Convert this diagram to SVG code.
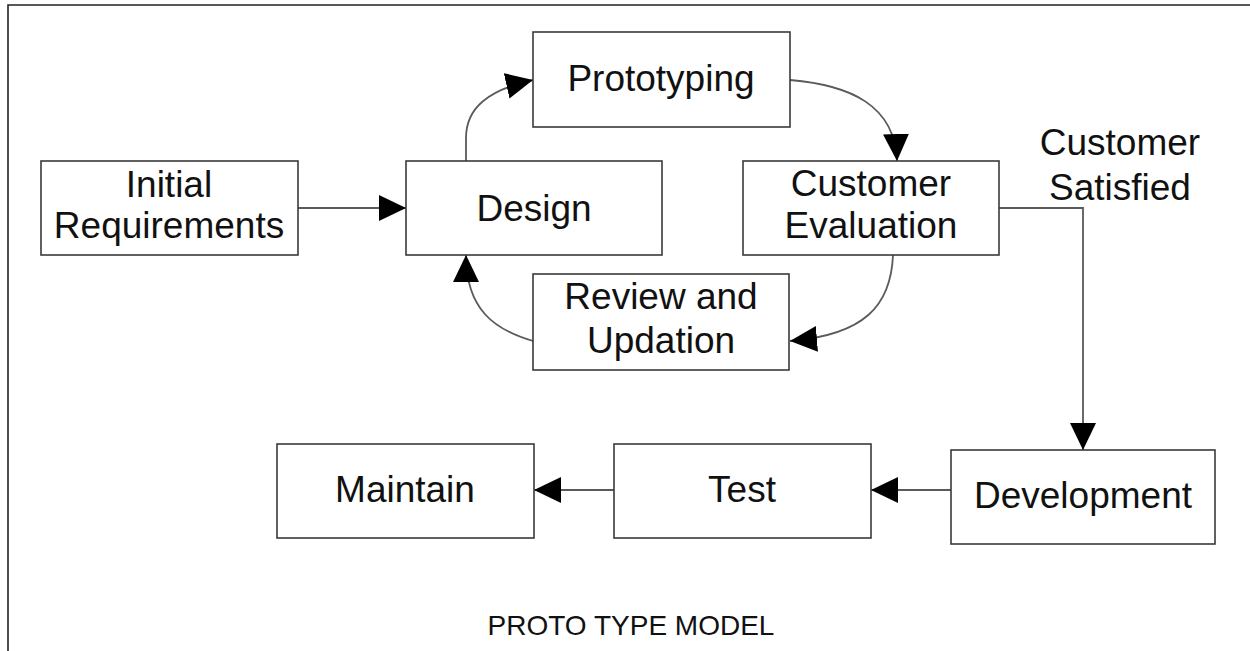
<svg xmlns="http://www.w3.org/2000/svg" width="1250" height="651" viewBox="0 0 1250 651">
  <style>
    .box { fill: #ffffff; stroke: #3a3a3a; stroke-width: 1.6; }
    .lbl { font-family: "Liberation Sans", Arial, sans-serif; font-size: 37px; fill: #111111; text-anchor: middle; }
    .cap { font-family: "Liberation Sans", Arial, sans-serif; font-size: 28px; fill: #111111; text-anchor: middle; }
    .edge { fill: none; stroke: #5a5a5a; stroke-width: 1.8; marker-end: url(#arrow); }
    .frame { fill: none; stroke: #222222; stroke-width: 1.6; }
  </style>
  <defs>
    <marker id="arrow" markerUnits="userSpaceOnUse" markerWidth="30" markerHeight="28" refX="27" refY="13" orient="auto">
      <path d="M0,0 L27,13 L0,26 Z" fill="#000000"/>
    </marker>
  </defs>

  <rect x="0" y="0" width="1250" height="651" fill="#ffffff"/>

  <!-- page frame: top and left rules -->
  <path class="frame" d="M8,651 L8,5 L1250,5"/>

  <!-- connectors -->
  <g id="connectors">
    <path class="edge" d="M298,208 L406,208"/>
    <path class="edge" d="M466,161 L466,138 C466,108 488,90 533,80"/>
    <path class="edge" d="M790,80 C850,85 895,105 897,161"/>
    <path class="edge" d="M893,255 C891,305 865,335 790,341"/>
    <path class="edge" d="M533,341 C495,330 466,310 466,255"/>
    <path class="edge" d="M999,208 L1083,208 L1083,450"/>
    <path class="edge" d="M951,490 L871,490"/>
    <path class="edge" d="M614,490 L534,490"/>
  </g>

  <g id="initial-requirements">
    <rect class="box" x="41" y="161" width="257" height="94"/>
    <text class="lbl" x="169" y="197">Initial</text>
    <text class="lbl" x="169" y="238">Requirements</text>
  </g>

  <g id="design">
    <rect class="box" x="406" y="161" width="256" height="94"/>
    <text class="lbl" x="534" y="221">Design</text>
  </g>

  <g id="prototyping">
    <rect class="box" x="533" y="32" width="257" height="95"/>
    <text class="lbl" x="661" y="91">Prototyping</text>
  </g>

  <g id="customer-evaluation">
    <rect class="box" x="743" y="161" width="256" height="94"/>
    <text class="lbl" x="871" y="196">Customer</text>
    <text class="lbl" x="871" y="238">Evaluation</text>
  </g>

  <g id="review-updation">
    <rect class="box" x="533" y="274" width="256" height="96"/>
    <text class="lbl" x="661" y="309">Review and</text>
    <text class="lbl" x="661" y="353">Updation</text>
  </g>

  <g id="customer-satisfied">
    <text class="lbl" x="1120" y="155">Customer</text>
    <text class="lbl" x="1120" y="200">Satisfied</text>
  </g>

  <g id="development">
    <rect class="box" x="951" y="450" width="264" height="94"/>
    <text class="lbl" x="1083" y="508">Development</text>
  </g>

  <g id="test">
    <rect class="box" x="614" y="444" width="257" height="94"/>
    <text class="lbl" x="742" y="502">Test</text>
  </g>

  <g id="maintain">
    <rect class="box" x="277" y="444" width="257" height="94"/>
    <text class="lbl" x="405" y="502">Maintain</text>
  </g>

  <g id="caption">
    <text class="cap" x="631" y="635">PROTO TYPE MODEL</text>
  </g>
</svg>
